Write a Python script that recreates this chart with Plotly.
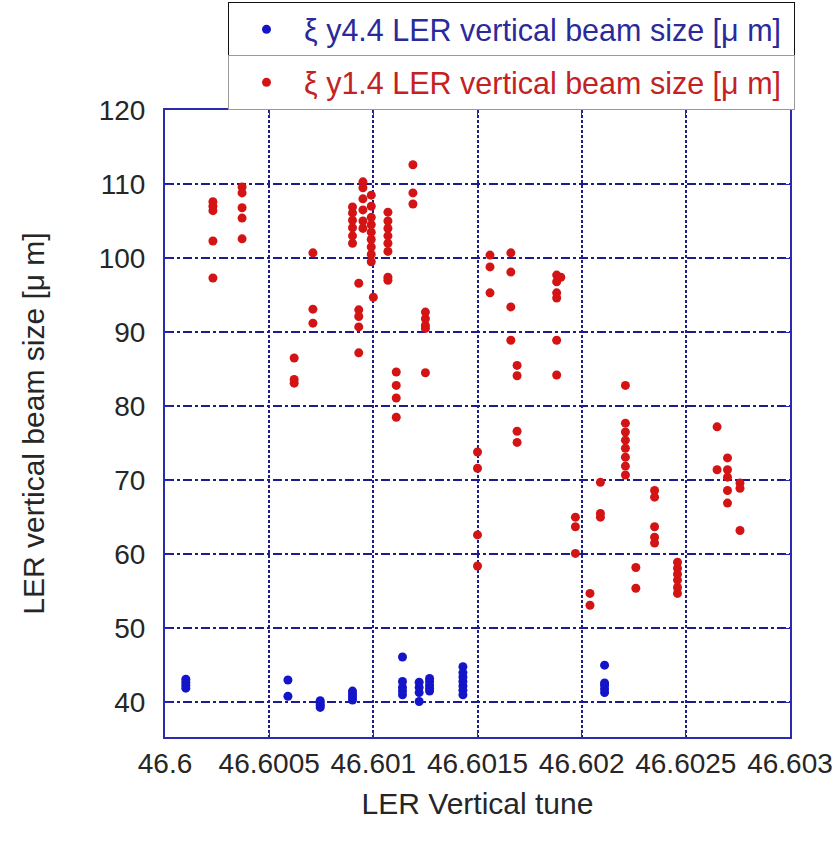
import plotly.graph_objects as go

# Axis ticks
tune_ticks = [46.6, 46.6005, 46.601, 46.6015, 46.602, 46.6025, 46.603]
tune_labels = ["46.6", "46.6005", "46.601", "46.6015", "46.602", "46.6025", "46.603"]
size_ticks = [40, 50, 60, 70, 80, 90, 100, 110, 120]

# xi_y = 4.4 scan
blue_tune = [46.6001, 46.6001, 46.6001, 46.6001,
             46.60059, 46.60059,
             46.600745, 46.600745, 46.600745, 46.600745,
             46.6009, 46.6009, 46.6009, 46.6009,
             46.60114, 46.60114, 46.60114, 46.60114, 46.60114,
             46.60122, 46.60122, 46.60122, 46.60122,
             46.60127, 46.60127, 46.60127, 46.60127, 46.60127,
             46.60143, 46.60143, 46.60143, 46.60143, 46.60143, 46.60143, 46.60143,
             46.60211, 46.60211, 46.60211, 46.60211, 46.60211]
blue_size = [41.9, 42.3, 42.7, 43.1,
             43.0, 40.8,
             39.3, 39.6, 39.9, 40.2,
             40.3, 40.7, 41.1, 41.5,
             46.1, 41.0, 41.5, 42.0, 42.8,
             40.1, 41.3, 42.0, 42.7,
             41.5, 41.9, 42.3, 42.8, 43.2,
             41.0, 41.6, 42.2, 42.8, 43.4, 44.0, 44.8,
             45.0, 41.3, 41.8, 42.3, 42.6]

# xi_y = 1.4 scan
red_tune = [46.60023] * 5 + [46.60037] * 5 + [46.60071] * 3 + [46.60062] * 3 \
    + [46.60119] * 3 + [46.6009] * 6 + [46.60095] * 6 + [46.60099] * 9 \
    + [46.60107] * 8 + [46.60093] * 5 + [46.601] + [46.60125] * 5 \
    + [46.60111] * 4 + [46.6015] * 4 + [46.60156] * 3 + [46.60166] * 4 \
    + [46.60169] * 4 + [46.60188] * 6 + [46.6019] + [46.60197] * 3 \
    + [46.60221] * 8 + [46.60209] * 3 + [46.60204] * 2 + [46.60226] * 2 \
    + [46.60235] * 5 + [46.60246] * 6 + [46.60265] * 2 + [46.6027] * 5 \
    + [46.60276] * 3
red_size = [107.6, 107.0, 106.4, 102.3, 97.3,
            109.6, 108.8, 106.8, 105.4, 102.6,
            100.7, 93.1, 91.2,
            86.5, 83.6, 83.1,
            112.6, 108.8, 107.3,
            106.9, 106.1, 105.1, 104.1, 103.0, 102.0,
            104.0, 105.0, 106.5, 108.0, 109.5, 110.3,
            99.5, 100.5, 101.5, 102.5, 103.5, 104.5, 105.5, 107.0, 108.5,
            106.2, 105.0, 104.0, 103.0, 102.0, 100.9, 97.4, 97.0,
            96.6, 93.0, 92.1, 90.7, 87.2,
            94.7,
            92.7, 91.8, 90.9, 90.5, 84.5,
            84.6, 82.8, 81.1, 78.5,
            73.8, 71.6, 62.6, 58.4,
            100.4, 98.8, 95.3,
            100.7, 98.1, 93.4, 88.9,
            85.5, 84.1, 76.6, 75.1,
            97.7, 96.8, 95.3, 94.6, 88.9, 84.2,
            97.4,
            65.0, 63.7, 60.1,
            82.8, 77.7, 76.5, 75.4, 74.3, 73.1, 71.9, 70.7,
            69.7, 65.5, 65.0,
            54.7, 53.1,
            58.2, 55.4,
            68.6, 67.7, 63.7, 62.3, 61.5,
            58.9, 58.1, 57.3, 56.5, 55.5, 54.7,
            77.2, 71.4,
            73.0, 71.4, 70.4, 68.6, 66.9,
            69.6, 68.9, 63.2]

FONT = "Liberation Sans, Arial, sans-serif"
AXIS_BLUE = "#2b2bb0"
GRID_BLUE = "#1c1c8c"
TEXT = "#262626"

fig = go.Figure()
fig.add_trace(go.Scatter(
    x=blue_tune, y=blue_size, mode="markers",
    marker=dict(color="#1414c8", size=9),
    name="ξ y4.4 LER vertical beam size [μ m]",
    legend="legend",
))
fig.add_trace(go.Scatter(
    x=red_tune, y=red_size, mode="markers",
    marker=dict(color="#d41414", size=9),
    name="ξ y1.4 LER vertical beam size [μ m]",
    legend="legend2",
))

legend_common = dict(
    xref="container", yref="container",
    xanchor="left", yanchor="top", x=228 / 838,
    bgcolor="white", borderwidth=1,
    orientation="h", entrywidth=485, entrywidthmode="pixels",
    itemsizing="trace", itemwidth=65,
)

fig.update_layout(
    width=838, height=844,
    margin=dict(l=165, r=48, t=110, b=107),
    paper_bgcolor="white", plot_bgcolor="white",
    font=dict(family=FONT, size=28, color=TEXT),
    showlegend=True,
    legend=dict(**legend_common, y=1 - 2 / 844, bordercolor="#111111",
                font=dict(family=FONT, size=30.5, color="#2a2a9a")),
    legend2=dict(**legend_common, y=1 - 55 / 844, bordercolor="#999999",
                 font=dict(family=FONT, size=30.5, color="#c42222")),
    xaxis=dict(
        range=[46.6, 46.603], tickvals=tune_ticks, ticktext=tune_labels,
        tickfont=dict(family=FONT, size=28, color=TEXT),
        showline=True, linecolor=AXIS_BLUE, linewidth=2, mirror="ticks",
        ticks="inside", ticklen=6, tickcolor=AXIS_BLUE,
        showgrid=True, gridcolor=GRID_BLUE, griddash="3px,2px", gridwidth=1.5,
        zeroline=False, automargin=False,
        title=dict(text="LER Vertical tune", standoff=15,
                   font=dict(family=FONT, size=30, color=TEXT)),
    ),
    yaxis=dict(
        range=[35.3, 120], tickvals=size_ticks,
        tickfont=dict(family=FONT, size=28, color=TEXT),
        ticklabelstandoff=12,
        showline=True, linecolor=AXIS_BLUE, linewidth=2, mirror="ticks",
        ticks="inside", ticklen=6, tickcolor=AXIS_BLUE,
        showgrid=True, gridcolor=GRID_BLUE, griddash="dashdot", gridwidth=1.5,
        zeroline=False, automargin=False,
        title=dict(text="LER vertical beam size [μ m]", standoff=45,
                   font=dict(family=FONT, size=30, color=TEXT)),
    ),
)

fig.write_html("out.html")
